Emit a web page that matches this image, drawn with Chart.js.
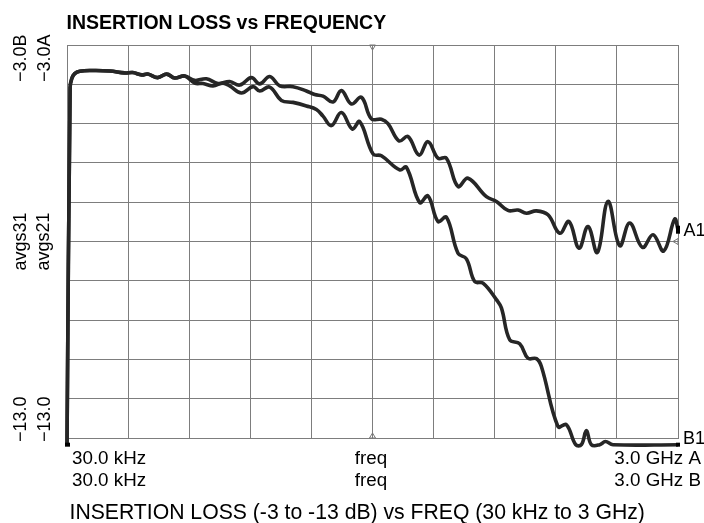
<!DOCTYPE html>
<html>
<head>
<meta charset="utf-8">
<script src="https://cdn.jsdelivr.net/npm/chart.js@4"></script>
<style>
  body { margin: 0; background: #fff; }
  #wrap { width: 704px; height: 523px; }
</style>
</head>
<body>
<div id="wrap"><canvas id="lossChart" width="704" height="523"></canvas></div>
<script>
// frequency in GHz (linear sweep 30 kHz .. 3 GHz), loss in dB
const freqA = [0.00003, 0.0152, 0.0231, 0.0378, 0.0624, 0.1213, 0.2097, 0.2833, 0.3226, 0.3668, 0.3962, 0.4453, 0.4895, 0.5288, 0.5779,
  0.627, 0.6845, 0.7414, 0.7989, 0.848, 0.9054, 0.9462, 0.9953, 1.0444, 1.1097, 1.1755, 1.2162, 1.257, 1.3061, 1.3473, 1.3964, 1.4455,
  1.4946, 1.5437, 1.5761, 1.6301, 1.6743, 1.7283, 1.7725, 1.8216, 1.8629, 1.9198, 1.9689, 2.0593, 2.1084, 2.1653, 2.2144, 2.2557,
  2.3048, 2.3617, 2.4192, 2.4648, 2.5139, 2.5581, 2.6043, 2.6563, 2.7138, 2.7629, 2.8252, 2.8773, 2.9298, 2.9838, 3.0];
const lossA = [-13.17, -4.09, -3.86, -3.73, -3.67, -3.65, -3.66, -3.71, -3.70, -3.76, -3.74, -3.83, -3.74, -3.84, -3.79,
  -3.90, -3.86, -3.98, -3.93, -4.02, -3.83, -3.99, -3.80, -4.04, -4.06, -4.17, -4.26, -4.30, -4.45, -4.16, -4.50, -4.33,
  -4.88, -4.89, -5.00, -5.44, -5.33, -5.80, -5.46, -5.88, -5.88, -6.60, -6.39, -6.86, -6.98, -7.21, -7.20, -7.28,
  -7.22, -7.32, -7.79, -7.49, -8.17, -7.62, -8.28, -6.98, -8.11, -7.53, -8.15, -7.83, -8.24, -7.43, -7.70];

const freqB = [0.00003, 0.0152, 0.0231, 0.0378, 0.0624, 0.1213, 0.2097, 0.2833, 0.3226, 0.3668, 0.3962, 0.4453, 0.4895, 0.5288, 0.5779,
  0.627, 0.6678, 0.7169, 0.766, 0.7989, 0.8563, 0.9133, 0.9462, 0.9953, 1.0527, 1.1097, 1.1755, 1.2246, 1.257, 1.2982, 1.3473,
  1.4013, 1.4372, 1.5025, 1.5437, 1.6336, 1.6665, 1.7318, 1.7725, 1.8216, 1.8629, 1.9198, 1.9611, 2.0018, 2.0426, 2.1084, 2.1329,
  2.1736, 2.2227, 2.2635, 2.3048, 2.3293, 2.4108, 2.452, 2.4977, 2.5257, 2.5503, 2.5748, 2.6156, 2.6436, 2.6809, 3.0];
const lossB = [-13.17, -4.09, -3.86, -3.73, -3.67, -3.65, -3.66, -3.71, -3.70, -3.76, -3.74, -3.83, -3.74, -3.84, -3.79,
  -3.97, -3.98, -4.04, -3.97, -4.04, -4.22, -4.06, -4.17, -4.07, -4.41, -4.46, -4.55, -4.64, -4.81, -5.05, -4.72,
  -5.14, -4.95, -5.77, -5.82, -6.18, -6.11, -7.01, -6.84, -7.49, -7.38, -8.30, -8.44, -9.02, -9.06, -9.48, -9.69,
  -10.50, -10.60, -10.97, -10.98, -11.18, -12.71, -12.66, -13.17, -13.17, -12.81, -13.17, -13.17, -13.09, -13.17, -13.17];

const xTicks = [0, 0.3, 0.6, 0.9, 1.2, 1.5, 1.8, 2.1, 2.4, 2.7, 3.0];
const yTicks = [-13, -12, -11, -10, -9, -8, -7, -6, -5, -4, -3];

const toPoints = (xs, ys) => xs.map((x, i) => ({ x: x, y: ys[i] }));

const gridColor = '#7d7d7d';
const traceColor = '#262626';

// text labels and markers drawn around the plot
const labelsPlugin = {
  id: 'analyzerLabels',
  afterDraw(chart) {
    const ctx = chart.ctx;
    const area = chart.chartArea;
    const xs = chart.scales.x;
    const ys = chart.scales.y;
    ctx.save();
    ctx.fillStyle = '#000';
    ctx.textBaseline = 'alphabetic';

    ctx.font = 'bold 19.5px "Liberation Sans", Arial, sans-serif';
    ctx.textAlign = 'left';
    ctx.fillText('INSERTION LOSS vs FREQUENCY', 66.5, 28.5);

    // rotated left labels
    ctx.font = '18px "Liberation Sans", Arial, sans-serif';
    const vert = (txt, x, y, align) => {
      ctx.save();
      ctx.translate(x, y);
      ctx.rotate(-Math.PI / 2);
      ctx.textAlign = align;
      ctx.fillText(txt, 0, 0);
      ctx.restore();
    };
    vert('\u22123.0B', 25.5, 82, 'left');
    vert('\u22123.0A', 50, 82, 'left');
    vert('\u221213.0', 25.5, 442, 'left');
    vert('\u221213.0', 50, 442, 'left');
    vert('avgs31', 25.5, 241.5, 'center');
    vert('avgs21', 48.5, 241.5, 'center');

    // bottom labels
    ctx.font = '18.8px "Liberation Sans", Arial, sans-serif';
    ctx.textAlign = 'left';
    ctx.fillText('30.0 kHz', 72, 464);
    ctx.fillText('30.0 kHz', 72, 486);
    ctx.textAlign = 'center';
    ctx.fillText('freq', 371, 464);
    ctx.fillText('freq', 371, 486);
    ctx.textAlign = 'right';
    ctx.fillText('3.0 GHz A', 701, 464);
    ctx.fillText('3.0 GHz B', 701, 486);
    ctx.textAlign = 'left';
    ctx.font = '18px "Liberation Sans", Arial, sans-serif';
    ctx.fillText('A1', 683.5, 235.5);
    ctx.fillText('B1', 683, 443.5);

    ctx.font = '21.2px "Liberation Sans", Arial, sans-serif';
    ctx.fillText('INSERTION LOSS (-3 to -13 dB) vs FREQ (30 kHz to 3 GHz)', 69.5, 518.5);

    // end markers
    ctx.fillStyle = '#000';
    const endA = ys.getPixelForValue(lossA[lossA.length - 1]);
    const endB = ys.getPixelForValue(lossB[lossB.length - 1]);
    ctx.fillRect(area.right - 2, endA - 4, 4, 8);
    ctx.fillRect(area.right - 2, endB - 2, 4, 4);
    ctx.fillRect(area.left - 2, ys.getPixelForValue(lossB[0]) - 2, 5, 4);

    // reference triangles
    ctx.strokeStyle = '#777';
    ctx.lineWidth = 1;
    const midX = xs.getPixelForValue(1.5);
    ctx.beginPath();
    ctx.moveTo(midX - 3, area.top); ctx.lineTo(midX + 3, area.top); ctx.lineTo(midX, area.top + 5); ctx.closePath();
    ctx.stroke();
    ctx.beginPath();
    ctx.moveTo(midX - 3, area.bottom); ctx.lineTo(midX + 3, area.bottom); ctx.lineTo(midX, area.bottom - 5); ctx.closePath();
    ctx.stroke();
    const refY = ys.getPixelForValue(-8);
    ctx.beginPath();
    ctx.moveTo(area.right, refY - 3); ctx.lineTo(area.right, refY + 3); ctx.lineTo(area.right - 5, refY); ctx.closePath();
    ctx.stroke();
    ctx.restore();
  }
};

const ctx = document.getElementById('lossChart').getContext('2d');
const lossChart = new Chart(ctx, {
  type: 'line',
  data: {
    datasets: [
      {
        label: 'avgs21',
        data: toPoints(freqA, lossA),
        borderColor: traceColor,
        borderWidth: 3.6,
        pointRadius: 0,
        tension: 0.4,
        clip: false
      },
      {
        label: 'avgs31',
        data: toPoints(freqB, lossB),
        borderColor: traceColor,
        borderWidth: 3.6,
        pointRadius: 0,
        tension: 0.4,
        clip: false
      }
    ]
  },
  options: {
    responsive: false,
    animation: false,
    devicePixelRatio: 1,
    layout: { padding: { left: 67, right: 26, top: 45, bottom: 85 } },
    scales: {
      x: {
        type: 'linear',
        min: 0,
        max: 3,
        afterBuildTicks: axis => { axis.ticks = xTicks.map(v => ({ value: v })); },
        ticks: { display: false },
        grid: { color: gridColor, lineWidth: 1, drawTicks: false },
        border: { color: gridColor }
      },
      y: {
        min: -13,
        max: -3,
        afterBuildTicks: axis => { axis.ticks = yTicks.map(v => ({ value: v })); },
        ticks: { display: false },
        grid: { color: gridColor, lineWidth: 1, drawTicks: false },
        border: { color: gridColor }
      }
    },
    plugins: {
      legend: { display: false },
      tooltip: { enabled: false },
      title: { display: false }
    }
  },
  plugins: [labelsPlugin]
});
</script>
</body>
</html>
